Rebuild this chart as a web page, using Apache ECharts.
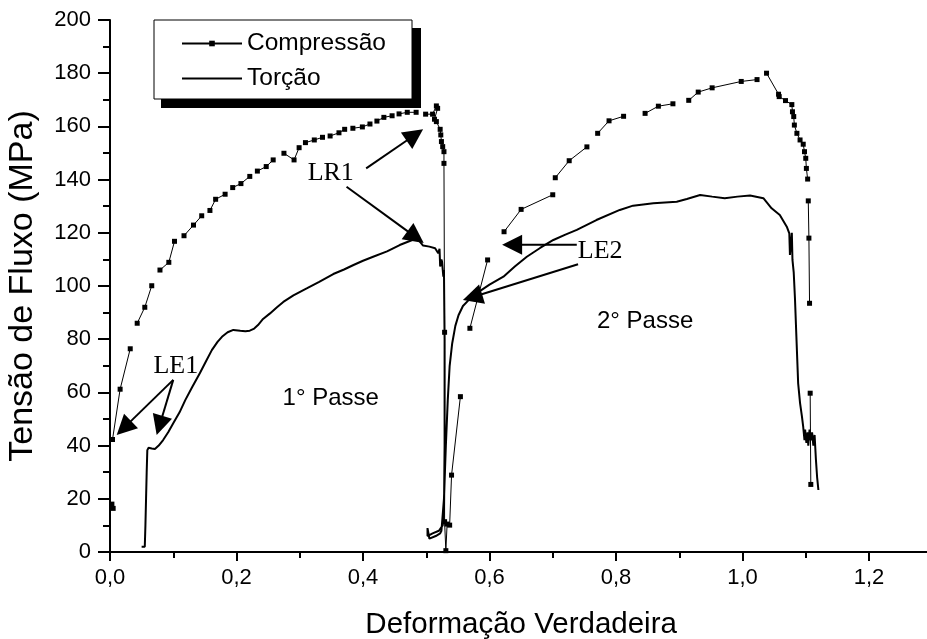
<!DOCTYPE html>
<html><head><meta charset="utf-8">
<script src="https://cdn.jsdelivr.net/npm/echarts@6/dist/echarts.min.js"></script>
<style>html,body{margin:0;padding:0;background:#fff}#c{width:927px;height:639px}</style>
</head><body><div id="c"></div>
<script>
// Compression (null = gap in the drawn line)
const compX = [0.003,0.005,null,
 0.004,0.016,0.032,null, 0.043,0.055,0.066,null, 0.079,0.093,0.102,null,
 0.117,0.132,0.145,null, 0.158,0.167,0.182,null, 0.194,0.207,0.221,null,
 0.233,0.247,0.258,null, 0.275,0.291,0.299,null, 0.309,0.323,0.336,null,
 0.348,0.362,0.371,null, 0.384,0.399,0.411,null, 0.422,0.433,0.446,null,
 0.457,0.470,0.484,null,
 0.499,0.510,0.516,0.518,0.513,0.516,0.522,0.523,0.524,0.526,0.528,0.528,0.529,0.529,0.531,0.533,0.537,0.540,0.554,null,
 0.569,0.597,null, 0.623,0.650,0.700,null, 0.704,0.726,0.754,null,
 0.771,0.789,0.812,null, 0.846,0.867,0.890,null,
 0.915,0.930,0.952,0.998,1.023,null,
 1.038,1.057,1.058,1.068,1.078,1.079,1.081,1.082,1.086,1.091,1.096,1.098,1.100,1.101,1.103,null,
 1.104,1.105,1.106,null, 1.107,1.108];
const compY = [18.0,16.4,null,
 42.3,61.2,76.4,null, 86.0,92.0,100.1,null, 106.0,108.9,116.8,null,
 118.9,122.9,126.4,null, 128.4,132.6,134.5,null, 137.0,138.5,141.2,null,
 143.2,144.9,147.4,null, 149.9,147.4,152.0,null, 153.9,154.9,155.9,null,
 156.4,157.6,158.9,null, 159.3,159.8,160.9,null, 162.0,163.4,164.0,null,
 164.7,165.3,165.3,null,
 164.6,164.6,167.7,166.8,162.7,161.8,158.9,156.8,154.3,152.4,150.5,146.1,82.6,11.4,0.5,10.5,10.1,28.9,58.4,null,
 84.1,109.8,null, 120.4,128.8,134.3,null, 140.7,147.1,152.3,null,
 157.4,162.1,163.8,null, 164.9,167.6,168.5,null,
 169.8,172.9,174.5,176.9,177.6,null,
 180.0,172.1,171.2,169.7,168.2,165.5,163.7,160.5,157.4,154.9,153.3,150.5,148.0,144.2,140.2,null,
 132.0,118.0,93.5,null, 59.7,25.4];

// Torsion
const torX = [0.050,0.055,0.056,0.057,0.058,0.059,0.061,0.066,0.071,0.077,0.084,0.092,0.100,0.110,0.119,0.130,0.142,0.152,0.161,0.170,0.177,0.186,0.195,0.206,0.214,0.221,0.228,0.234,0.242,0.253,0.264,0.274,0.290,0.311,0.330,0.353,0.370,0.385,0.400,0.416,0.438,0.458,0.478,0.487,0.495,0.505,0.514,0.519,0.521,0.522,0.524,0.525,0.527,0.528,0.529,0.529,0.528,0.526,0.520,0.510,0.502,0.502,0.505,0.515,0.522,0.524,0.528,0.531,0.534,0.537,0.541,0.546,0.551,0.558,0.567,0.580,0.600,0.622,0.640,0.659,0.680,0.701,0.720,0.738,0.769,0.806,0.827,0.859,0.896,0.912,0.933,0.952,0.972,0.992,1.012,1.033,1.046,1.059,1.070,1.074,1.075,1.078,1.079,1.081,1.083,1.085,1.088,1.091,1.094,1.096,1.098,1.099,1.101,1.103,1.104,1.106,1.108,1.110,1.112,1.114,1.116,1.118,1.120];
const torY = [2.0,2.0,10,20,30,38.3,39.2,38.9,38.7,40.0,42.1,45.0,48.4,52.5,57.1,62.0,67.2,71.8,75.9,79.0,80.9,82.6,83.5,83.2,83.0,83.2,84.0,85.3,87.6,89.7,92.0,94.0,96.5,99.1,101.5,104.5,106.2,107.9,109.5,111.0,113.0,115.4,117.3,117.5,115.2,114.8,114.2,112.3,114.0,107.3,110.0,109.1,103.5,106.0,80,40,15,10,8,7,6,9,5,6,7,8,20,40,57,70,78.4,85,89,92.5,94.7,97.3,100.5,103.5,107.3,111.0,114.3,117.3,119.3,121.1,124.8,128.6,130.2,131.1,131.7,132.7,134.2,133.6,133.0,133.6,134.0,133.0,129.2,126.7,122.3,119.8,111.7,120.0,109.8,105,95,82.2,63.4,56,50.9,47,42,46,41,45,40,46,42,45,40,44,35,28,23.3];

const seriesNames = ['Compressão','Torção'];
const xTitle = 'Deformação Verdadeira';
const yTitle = 'Tensão de Fluxo (MPa)';

// annotations in data coordinates
const notes = [
  {text:'LR1', x:0.349, y:142.5, serif:true},
  {text:'LE1', x:0.104, y:69.7, serif:true},
  {text:'LE2', x:0.775, y:113.2, serif:true},
  {text:'1° Passe', x:0.349, y:57.9, serif:false},
  {text:'2° Passe', x:0.846, y:86.8, serif:false}
];
// arrows: [startX, startY, tipX, tipY]
const arrows = [
  [0.405,144.2, 0.495,158.9],
  [0.374,137.3, 0.496,116.2],
  [0.100,64.7, 0.0106,44.0],
  [0.100,64.7, 0.0738,44.0],
  [0.738,115.5, 0.620,115.5],
  [0.740,108.2, 0.558,94.7]
];

function pairs(xs, ys){
  return xs.map((x,i)=> (x===null||ys[i]===null) ? ['-','-'] : [x, ys[i]]);
}
const FONT = 'Liberation Sans, Arial, sans-serif';
const chart = echarts.init(document.getElementById('c'), null, {renderer:'canvas'});
const G = {left:110, top:20, width:822.25, height:532, containLabel:false, outerBoundsMode:'none'};
chart.setOption({
  animation:false,
  backgroundColor:'#fff',
  grid:[Object.assign({}, G), Object.assign({}, G)],
  legend:{
    data:[{name:seriesNames[0]}, {name:seriesNames[1], itemStyle:{opacity:0}}],
    orient:'vertical', left:181, top:31, padding:0,
    itemWidth:60, itemHeight:7, itemGap:10, z:20,
    textStyle:{fontSize:24.5, fontFamily:FONT, color:'#000'}
  },
  xAxis:[
    {type:'value', gridIndex:0, min:0, max:1.3, interval:0.2,
     name:xTitle, nameLocation:'middle', nameGap:58,
     nameTextStyle:{fontSize:29.5, fontFamily:FONT, color:'#000'},
     axisLine:{lineStyle:{color:'#000', width:2}},
     axisTick:{length:9, lineStyle:{color:'#000', width:2}},
     axisLabel:{fontSize:22, fontFamily:FONT, color:'#000', margin:15,
       formatter:v=> Math.abs(v*5-Math.round(v*5))<1e-6 ? v.toFixed(1).replace('.',',') : ''},
     splitLine:{show:false}},
    {type:'value', gridIndex:1, min:0, max:1.3, interval:0.1,
     axisLine:{show:false}, axisLabel:{show:false}, splitLine:{show:false},
     axisTick:{length:6, lineStyle:{color:'#000', width:2}}}
  ],
  yAxis:[
    {type:'value', gridIndex:0, min:0, max:200, interval:20,
     name:yTitle, nameLocation:'middle', nameGap:70,
     nameTextStyle:{fontSize:34, fontFamily:FONT, color:'#000'},
     axisLine:{lineStyle:{color:'#000', width:2}},
     axisTick:{length:12, lineStyle:{color:'#000', width:2}},
     axisLabel:{fontSize:22, fontFamily:FONT, color:'#000', margin:19},
     splitLine:{show:false}},
    {type:'value', gridIndex:1, min:0, max:200, interval:10,
     axisLine:{show:false}, axisLabel:{show:false}, splitLine:{show:false},
     axisTick:{length:7, lineStyle:{color:'#000', width:2}}}
  ],
  series:[
    {name:seriesNames[0], type:'line', xAxisIndex:0, yAxisIndex:0,
     data:pairs(compX, compY), symbol:'rect', symbolSize:5, showSymbol:true,
     connectNulls:false, itemStyle:{color:'#000'}, lineStyle:{color:'#000', width:1}, z:3},
    {name:seriesNames[1], type:'line', xAxisIndex:0, yAxisIndex:0,
     data:pairs(torX, torY), symbol:'none', itemStyle:{color:'#000'},
     lineStyle:{color:'#000', width:2}, z:2}
  ]
});

const gfx = [
  {type:'rect', shape:{x:161, y:28, width:260, height:80}, style:{fill:'#000'}, z:10},
  {type:'rect', shape:{x:154, y:20, width:258, height:79}, style:{fill:'#fff', stroke:'#000', lineWidth:1}, z:11}
];
notes.forEach(n=>{
  const p = chart.convertToPixel({gridIndex:0}, [n.x, n.y]);
  gfx.push({type:'text', x:p[0], y:p[1], z:15, style:{text:n.text, align:'center', verticalAlign:'middle',
    fontSize: n.serif?26:24, fontFamily: n.serif?'Liberation Serif, Times New Roman, serif':FONT, fill:'#000'}});
});
arrows.forEach(a=>{
  const s = chart.convertToPixel({gridIndex:0}, [a[0], a[1]]);
  const t = chart.convertToPixel({gridIndex:0}, [a[2], a[3]]);
  const dx=t[0]-s[0], dy=t[1]-s[1], L=Math.hypot(dx,dy), ux=dx/L, uy=dy/L;
  const hl=20, hw=10;
  const bx=t[0]-ux*hl, by=t[1]-uy*hl;
  gfx.push({type:'line', z:15, shape:{x1:s[0], y1:s[1], x2:bx+ux*2, y2:by+uy*2}, style:{stroke:'#000', lineWidth:2}});
  gfx.push({type:'polygon', z:15, shape:{points:[[t[0],t[1]],[bx-uy*hw, by+ux*hw],[bx+uy*hw, by-ux*hw]]}, style:{fill:'#000'}});
});
chart.setOption({graphic:gfx});
</script></body></html>
